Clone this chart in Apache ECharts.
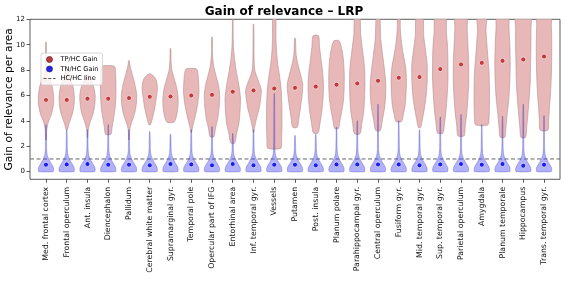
<!DOCTYPE html>
<html><head><meta charset="utf-8">
<script src="https://cdn.jsdelivr.net/npm/echarts@6/dist/echarts.min.js"></script>
<style>html,body{margin:0;padding:0;background:#fff}#c{width:568px;height:293px}</style>
</head><body><div id="c"></div>
<script>
const categories = ['Med. frontal cortex','Frontal operculum','Ant. insula','Diencephalon','Pallidum','Cerebral white matter','Supramarginal gyr.','Temporal pole','Opercular part of IFG','Entorhinal area','Inf. temporal gyr.','Vessels','Putamen','Post. insula','Planum polare','Parahippocampal gyr.','Central operculum','Fusiform gyr.','Mid. temporal gyr.','Sup. temporal gyr.','Parietal operculum','Amygdala','Planum temporale','Hippocampus','Trans. temporal gyr.'];

// medians (dots)
const tpMedian = [5.65,5.65,5.75,5.75,5.8,5.9,5.92,6.0,6.05,6.3,6.4,6.55,6.6,6.7,6.85,6.95,7.16,7.4,7.45,8.08,8.45,8.57,8.73,8.84,9.07];
const tnMedian = [0.55,0.57,0.6,0.55,0.55,0.5,0.6,0.57,0.5,0.6,0.5,0.55,0.55,0.5,0.57,0.57,0.57,0.57,0.5,0.57,0.6,0.55,0.6,0.47,0.55];

// TN/HC violins: shared body outline [value, relative width] + tail top per area
const tnShape = [[0,0.93],[0.12,1.0],[0.35,0.95],[0.6,0.72],[0.85,0.48],[1.1,0.28],[1.35,0.15],[1.7,0.09],[2.3,0.07]];
const tnTop = [3.7,3.3,3.3,3.7,3.3,3.15,2.95,3.3,3.55,3.0,3.3,6.15,2.85,2.95,3.5,4.0,5.3,4.0,3.3,4.3,4.5,3.7,4.35,5.3,4.4];

// TP/HC violins: [value, relative width]
const tpProfiles = [
 [[2.5,0.05],[3.3,0.1],[3.9,0.3],[4.5,0.7],[5.2,0.95],[5.8,1.0],[6.6,0.85],[7.2,0.55],[7.7,0.2],[8.3,0.07],[10.2,0.04]],
 [[3.3,0.08],[3.8,0.3],[4.4,0.65],[5.0,0.9],[5.8,1.0],[6.6,0.85],[7.3,0.5],[7.9,0.15]],
 [[2.7,0.04],[3.3,0.1],[3.9,0.35],[4.6,0.75],[5.3,0.95],[6.0,1.0],[6.7,0.8],[7.2,0.45],[7.6,0.1]],
 [[2.95,0.35],[3.5,0.5],[4.2,0.7],[5.0,0.9],[6.0,1.0],[7.0,1.0],[7.8,0.95],[8.3,0.8]],
 [[2.5,0.04],[3.3,0.1],[3.8,0.3],[4.5,0.7],[5.3,0.95],[6.0,1.0],[6.8,0.8],[7.6,0.45],[8.3,0.15],[8.75,0.04]],
 [[3.7,0.1],[4.2,0.35],[5.0,0.65],[5.8,0.85],[6.6,1.0],[7.2,0.85],[7.45,0.6],[7.62,0.35],[7.7,0.1]],
 [[3.9,0.45],[4.3,0.75],[5.0,0.95],[5.7,1.0],[6.5,0.85],[7.3,0.5],[8.0,0.18],[8.8,0.07],[9.7,0.04]],
 [[3.1,0.05],[3.6,0.2],[4.3,0.5],[5.2,0.8],[6.2,1.0],[7.2,0.95],[7.8,0.85],[8.1,0.65]],
 [[2.75,0.25],[3.4,0.45],[4.2,0.75],[5.2,0.95],[6.0,1.0],[6.8,0.85],[7.6,0.5],[8.4,0.2],[9.3,0.07],[10.6,0.04]],
 [[2.25,0.25],[3.0,0.5],[3.8,0.8],[4.8,0.95],[5.8,1.0],[6.8,0.8],[7.8,0.5],[8.8,0.25],[9.8,0.1],[11.0,0.05],[12.5,0.04]],
 [[3.1,0.05],[3.5,0.15],[4.2,0.4],[5.0,0.75],[5.8,0.95],[6.5,1.0],[7.2,0.6],[7.9,0.2],[8.8,0.08],[11.6,0.04]],
 [[1.85,0.85],[2.5,0.95],[3.5,1.0],[5.0,1.0],[6.5,0.9],[7.5,0.7],[8.5,0.45],[9.5,0.3],[10.5,0.22],[12.5,0.18]],
 [[3.5,0.3],[4.2,0.5],[5.2,0.75],[6.2,0.95],[6.9,1.0],[7.6,0.75],[8.4,0.4],[9.2,0.15],[10.5,0.05]],
 [[3.05,0.3],[3.8,0.55],[4.8,0.8],[5.8,0.95],[6.8,1.0],[7.8,0.9],[8.8,0.7],[9.8,0.5],[10.7,0.35]],
 [[3.4,0.25],[4.0,0.45],[4.8,0.7],[5.6,0.9],[6.6,1.0],[7.8,1.0],[8.8,0.9],[9.6,0.7],[10.3,0.35]],
 [[2.98,0.35],[3.8,0.6],[4.8,0.85],[5.8,0.95],[7.0,1.0],[8.2,0.95],[9.5,0.7],[10.8,0.45],[12.5,0.3]],
 [[3.24,0.3],[4.0,0.55],[5.0,0.85],[6.0,1.0],[7.0,1.0],[8.0,0.85],[9.2,0.6],[10.5,0.35],[12.5,0.2]],
 [[3.95,0.35],[4.5,0.6],[5.3,0.85],[6.2,0.95],[7.2,1.0],[8.2,0.9],[9.2,0.6],[10.2,0.35],[11.2,0.2],[12.5,0.15]],
 [[3.48,0.15],[4.2,0.4],[5.2,0.7],[6.2,0.9],[7.2,1.0],[8.4,1.0],[9.5,0.8],[10.7,0.55],[12.5,0.4]],
 [[3.03,0.35],[3.8,0.55],[4.8,0.75],[6.0,0.9],[7.2,1.0],[8.5,1.0],[9.8,0.95],[11.0,0.8],[12.5,0.65]],
 [[2.82,0.4],[3.6,0.55],[4.6,0.75],[5.8,0.9],[7.0,1.0],[8.5,1.0],[10.0,0.9],[11.2,0.8],[12.5,0.75]],
 [[3.69,0.8],[4.3,0.95],[5.3,1.0],[6.5,1.0],[7.8,0.95],[9.0,0.8],[10.2,0.65],[11.2,0.55],[12.5,0.6]],
 [[2.72,0.3],[3.5,0.45],[4.5,0.6],[5.6,0.8],[7.0,0.95],[8.5,1.0],[10.0,0.95],[11.2,0.85],[12.5,0.7]],
 [[2.7,0.3],[3.5,0.45],[4.5,0.6],[5.6,0.75],[7.0,0.9],[8.5,0.95],[10.0,1.0],[11.2,1.0],[12.5,0.95]],
 [[3.27,0.5],[4.0,0.6],[5.0,0.7],[6.2,0.85],[7.5,0.95],[9.0,1.0],[10.5,1.0],[11.5,0.95],[12.5,0.9]]
];

const hcLevel = 1;
const yTicks = [0,2,4,6,8,10,12];
const xTicks = categories.map((c, i) => i);

const FONT = 'DejaVu Sans';
const HALF = 0.37;

function makeRender(getProfile, style) {
  return function (params, api) {
    const i = api.value(0);
    const prof = getProfile(i);
    const right = prof.map(p => api.coord([i + p[1] * HALF, p[0]]));
    const left = prof.map(p => api.coord([i - p[1] * HALF, p[0]])).reverse();
    return {
      type: 'polygon',
      shape: { points: right.concat(left), smooth: 0.25 },
      style: style
    };
  };
}

const chart = echarts.init(document.getElementById('c'));
chart.setOption({
  animation: false,
  textStyle: { fontFamily: FONT },
  title: {
    text: 'Gain of relevance – LRP', left: 'center', top: 1,
    textStyle: { fontFamily: FONT, fontSize: 12, fontWeight: 'bold', color: '#000' }
  },
  legend: {
    orient: 'vertical', left: 41, top: 53,
    padding: [3, 4, 3, 2], itemGap: 2.5, itemWidth: 12, itemHeight: 6,
    backgroundColor: 'rgba(255,255,255,0.8)', borderColor: '#ccc', borderWidth: 0.8, borderRadius: 2,
    textStyle: { fontFamily: FONT, fontSize: 6.6, color: '#000' },
    data: [
      { name: 'TP/HC Gain', icon: 'circle', itemStyle: { color: '#c0393b', borderColor: '#5a2020', borderWidth: 0.7 } },
      { name: 'TN/HC Gain', icon: 'circle', itemStyle: { color: '#2424f0', borderColor: '#20206a', borderWidth: 0.7 } },
      { name: 'HC/HC line', itemStyle: { opacity: 0 }, lineStyle: { color: '#555', width: 1, type: [3, 1.8] } }
    ]
  },
  grid: { left: 30, right: 8, top: 19.3, bottom: 113.7, containLabel: false, outerBoundsMode: 'none',
          show: true, borderColor: '#333', borderWidth: 0.8, backgroundColor: 'transparent' },
  xAxis: {
    type: 'value', min: -0.77, max: 24.77,
    axisLine: { show: false, onZero: false },
    splitLine: { show: false },
    axisTick: { show: true, customValues: xTicks, length: 3.5, lineStyle: { color: '#333', width: 0.8 } },
    axisLabel: { customValues: xTicks, formatter: v => categories[v] || '', rotate: 90, margin: 7.5,
                 fontFamily: FONT, fontSize: 7.8, color: '#111' }
  },
  yAxis: {
    type: 'value', min: -0.6, max: 12,
    name: 'Gain of relevance per area', nameLocation: 'middle', nameGap: 15, nameRotate: 90,
    nameMoveOverlap: false,
    nameTextStyle: { fontFamily: FONT, fontSize: 10.7, color: '#000' },
    axisLine: { show: false, onZero: false },
    splitLine: { show: false },
    axisTick: { show: true, customValues: yTicks, length: 3.5, lineStyle: { color: '#333', width: 0.8 } },
    axisLabel: { customValues: yTicks, margin: 5, fontFamily: FONT, fontSize: 7, color: '#111' }
  },
  series: [
    {
      name: 'TP/HC Gain', type: 'custom', clip: true, z: 2,
      itemStyle: { color: '#e6b4b4' },
      renderItem: makeRender(i => tpProfiles[i], { fill: '#e8b7b7', stroke: '#b48e8e', lineWidth: 0.6 }),
      data: categories.map((c, i) => [i, tpMedian[i]])
    },
    {
      name: 'HC/HC line', type: 'line', z: 3, symbol: 'none', silent: true,
      itemStyle: { color: '#555' },
      lineStyle: { color: '#666', width: 1, type: [4, 2.5] },
      data: [[-0.77, hcLevel], [24.77, hcLevel]]
    },
    {
      name: 'TN/HC Gain', type: 'custom', clip: true, z: 4,
      itemStyle: { color: '#a9a9f5' },
      renderItem: makeRender(i => tnShape.concat([[tnTop[i], 0.03]]),
        { fill: 'rgba(70,70,240,0.42)', stroke: 'rgba(60,60,190,0.55)', lineWidth: 0.6 }),
      data: categories.map((c, i) => [i, tnMedian[i]])
    },
    {
      name: 'TP/HC Gain', type: 'scatter', z: 5, symbolSize: 5,
      itemStyle: { color: '#c4393b', borderColor: '#f6e2e2', borderWidth: 0.8, opacity: 1 },
      data: categories.map((c, i) => [i, tpMedian[i]])
    },
    {
      name: 'TN/HC Gain', type: 'scatter', z: 5, symbolSize: 5,
      itemStyle: { color: '#1c1cf5', borderColor: '#e2e2fa', borderWidth: 0.8, opacity: 1 },
      data: categories.map((c, i) => [i, tnMedian[i]])
    }
  ]
});
</script></body></html>
